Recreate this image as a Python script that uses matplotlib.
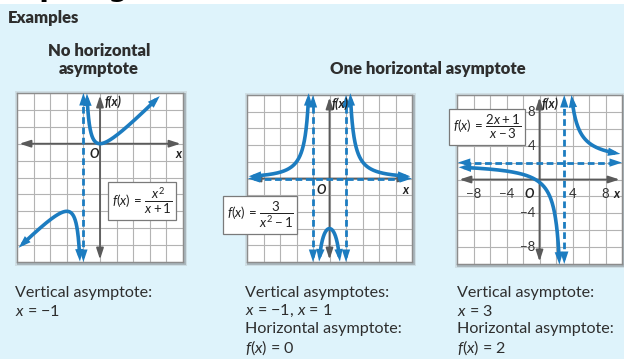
import numpy as np
import matplotlib
matplotlib.use("Agg")
import matplotlib.pyplot as plt
from matplotlib.patches import Rectangle

plt.rcParams["font.family"] = ["Lato", "DejaVu Sans"]
plt.rcParams["mathtext.fontset"] = "custom"
plt.rcParams["mathtext.rm"] = "Lato"
plt.rcParams["mathtext.it"] = "Lato:italic"
plt.rcParams["mathtext.bf"] = "Lato:bold"

W, H = 624, 359
BG = "#def3fb"
BLUE = "#1c7cc0"
AXIS = "#5a5a5a"
GRID = "#b3b3b3"
TEXT = "#2e2e2e"
MINUS = "\u2212"

# panel 1: f(x) = x^2 / (x + 1)
p1_box = [17, 93, 183, 262]          # px: left, top, right, bottom
p1_xlim = [-5, 5]
p1_ylim = [-7, 3]
p1_step = 1
p1_branches = [(-4.9, -1.21), (-0.79, 3.6)]
p1_vasym = [-1]
p1_hasym = []

# panel 2: f(x) = 3 / (x^2 - 1)
p2_box = [247, 95, 412, 262]
p2_xlim = [-5, 5]
p2_ylim = [-5, 5]
p2_step = 1
p2_branches = [(-4.9, -1.26), (-0.63, 0.63), (1.26, 4.9)]
p2_vasym = [-1, 1]
p2_hasym = [0]

# panel 3: f(x) = (2x + 1) / (x - 3)
p3_box = [457, 95, 622, 264]
p3_xlim = [-10, 10]
p3_ylim = [-10, 10]
p3_step = 2
p3_branches = [(-9.8, 2.42), (3.875, 9.8)]
p3_vasym = [3]
p3_hasym = [2]
p3_yticks = [8, 4, -4, -8]
p3_xticks = [-8, -4, 4, 8]


def f1(x):
    return x ** 2 / (x + 1)


def f2(x):
    return 3 / (x ** 2 - 1)


def f3(x):
    return (2 * x + 1) / (x - 3)


fig = plt.figure(figsize=(W / 100, H / 100), dpi=100, facecolor=BG)


def fr(x, y):
    return x / W, 1 - y / H


def head(ax, tip, u, color=BLUE):
    # tip and u in display pixels
    inv = ax.transData.inverted()
    ax.annotate("", xy=inv.transform(tip), xytext=inv.transform(tip - u * 12),
                arrowprops=dict(arrowstyle="-|>,head_length=0.75,head_width=0.25",
                                color=color, lw=0, shrinkA=0, shrinkB=0,
                                mutation_scale=12),
                annotation_clip=False, zorder=6)


def draw_path(ax, x, y, cut=5, **kw):
    d = ax.transData.transform(np.column_stack([x, y]))
    s = np.concatenate([[0], np.cumsum(np.hypot(*np.diff(d, axis=0).T))])
    keep = (s > cut) & (s < s[-1] - cut)
    ax.plot(x[keep], y[keep], color=BLUE, solid_capstyle="butt", zorder=5, **kw)
    # arrow heads at both ends
    i0 = np.searchsorted(s, 6)
    i1 = np.searchsorted(s, s[-1] - 6)
    u0 = d[0] - d[i0]
    u1 = d[-1] - d[i1]
    head(ax, d[0], u0 / np.hypot(*u0))
    head(ax, d[-1], u1 / np.hypot(*u1))


def make_panel(box, xlim, ylim, step):
    l, t, r, b = box
    for pad, c in [(3, "#cfdee4"), (1.5, "#a9b6bc")]:
        fig.patches.append(Rectangle(((l - pad + 1) / W, 1 - (b + pad + 1) / H),
                                     (r - l + 2 * pad) / W, (b - t + 2 * pad) / H,
                                     transform=fig.transFigure, fc=c, ec="none", zorder=0))
    ax = fig.add_axes([l / W, 1 - b / H, (r - l) / W, (b - t) / H])
    ax.set_zorder(2)
    ax.set_facecolor("white")
    ax.set_xlim(xlim)
    ax.set_ylim(ylim)
    ax.set_xticks(np.arange(xlim[0], xlim[1] + step, step))
    ax.set_yticks(np.arange(ylim[0], ylim[1] + step, step))
    ax.grid(True, color=GRID, lw=0.8)
    ax.set_axisbelow(True)
    ax.tick_params(length=0, labelbottom=False, labelleft=False)
    for s in ax.spines.values():
        s.set_color("#8c8c8c")
        s.set_linewidth(1)
    ap = dict(arrowstyle="<|-|>,head_length=0.55,head_width=0.18", color=AXIS,
              lw=1.3, shrinkA=0, shrinkB=0, mutation_scale=12)
    xm = (xlim[1] - xlim[0]) * 0.015
    ym = (ylim[1] - ylim[0]) * 0.015
    ax.annotate("", xy=(xlim[1] - xm, 0), xytext=(xlim[0] + xm, 0), arrowprops=ap, zorder=2)
    ax.annotate("", xy=(0, ylim[1] - ym), xytext=(0, ylim[0] + ym), arrowprops=ap, zorder=2)
    return ax


def draw_asymptotes(ax, xlim, ylim, vasym, hasym):
    for a in vasym:
        y = np.linspace(ylim[0], ylim[1], 200)
        draw_path(ax, np.full_like(y, a), y, lw=2, dashes=(2.4, 1.3))
    for a in hasym:
        x = np.linspace(xlim[0] + (xlim[1] - xlim[0]) * 0.005, xlim[1], 200)
        draw_path(ax, x, np.full_like(x, a), lw=2, dashes=(2.4, 1.3))


def draw_branches(ax, f, branches):
    for x0, x1 in branches:
        x = np.linspace(x0, x1, 600)
        draw_path(ax, x, f(x), lw=2.6)


lab = dict(fontsize=9, fontweight="bold", fontstyle="italic", color="#222", zorder=7)

# panel 1
ax1 = make_panel(p1_box, p1_xlim, p1_ylim, p1_step)
draw_asymptotes(ax1, p1_xlim, p1_ylim, p1_vasym, p1_hasym)
draw_branches(ax1, f1, p1_branches)
ax1.text(0.25, 2.5, "f(x)", ha="left", va="center", **lab)
ax1.text(-0.35, -0.6, "O", ha="center", va="center", **lab)
ax1.text(4.75, -0.6, "x", ha="center", va="center", **lab)

# panel 2
ax2 = make_panel(p2_box, p2_xlim, p2_ylim, p2_step)
draw_asymptotes(ax2, p2_xlim, p2_ylim, p2_vasym, p2_hasym)
draw_branches(ax2, f2, p2_branches)
ax2.text(0.1, 4.5, "f(x)", ha="left", va="center", **lab)
ax2.text(-0.5, -0.7, "O", ha="center", va="center", **lab)
ax2.text(4.6, -0.7, "x", ha="center", va="center", **lab)

# panel 3
ax3 = make_panel(p3_box, p3_xlim, p3_ylim, p3_step)
draw_asymptotes(ax3, p3_xlim, p3_ylim, p3_vasym, p3_hasym)
draw_branches(ax3, f3, p3_branches)
ax3.text(0.3, 9.0, "f(x)", ha="left", va="center", **lab)
num = dict(fontsize=9.5, color="#333", zorder=7)
for v in p3_yticks:
    ax3.text(-0.5, v, str(v).replace("-", MINUS), ha="right", va="center", **num)
for v in p3_xticks:
    ax3.text(v, -1.7, str(v).replace("-", MINUS), ha="center", va="center", **num)
ax3.text(-1.2, -1.7, "O", ha="center", va="center", **lab)
ax3.text(9.3, -1.7, "x", ha="center", va="center", **lab)

# formula boxes
fbox = dict(boxstyle="square,pad=0.3", fc="white", ec="#7a7a7a", lw=0.9)
fig.text(*fr(142, 201), r"$f(x)\,=\,\dfrac{x^2}{x+1}$", ha="center", va="center",
         fontsize=9.5, color="#222", bbox=fbox, zorder=10)
fig.text(*fr(260, 215), r"$f(x)\,=\,\dfrac{3}{x^2-1}$", ha="center", va="center",
         fontsize=9.5, color="#222", bbox=fbox, zorder=10)
fig.text(*fr(487, 127), r"$f(x)\,=\,\dfrac{2x+1}{x-3}$", ha="center", va="center",
         fontsize=9.5, color="#222", bbox=fbox, zorder=10)

# top strip with the cut-off title
fig.patches.append(Rectangle((0, 1 - 4 / H), 1, 4 / H, transform=fig.transFigure,
                             fc="white", ec="none", zorder=1))
fig.text(*fr(-16, -4), "Graphing Rational Functions", ha="left", va="baseline",
         fontsize=20, fontweight="bold", family="DejaVu Sans", color="black")

# headings
hd = dict(fontsize=12, fontweight="heavy", color=TEXT)
fig.text(*fr(8, 18), "Examples", ha="left", va="center", **hd)
fig.text(*fr(99, 51), "No horizontal", ha="center", va="center", **hd)
fig.text(*fr(99, 69), "asymptote", ha="center", va="center", **hd)
fig.text(*fr(428, 69), "One horizontal asymptote", ha="center", va="center", **hd)

# notes under the graphs
notes = [
    (15, ["Vertical asymptote:", "$x$ = " + MINUS + "1"]),
    (245, ["Vertical asymptotes:", "$x$ = " + MINUS + "1, $x$ = 1",
           "Horizontal asymptote:", "$f$($x$) = 0"]),
    (457, ["Vertical asymptote:", "$x$ = 3",
           "Horizontal asymptote:", "$f$($x$) = 2"]),
]
rows = [293, 311, 329, 348]
for x0, lines in notes:
    for y0, s in zip(rows, lines):
        fig.text(*fr(x0, y0), s, ha="left", va="center", fontsize=11.6, color=TEXT)

fig.savefig("out.png", dpi=100, facecolor=BG)
